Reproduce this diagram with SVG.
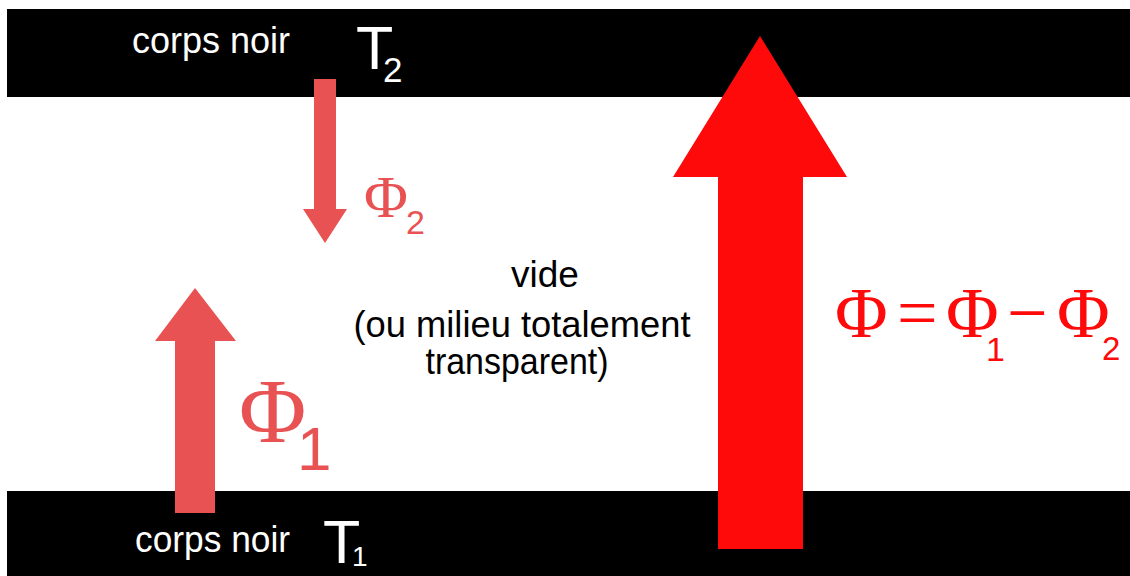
<svg xmlns="http://www.w3.org/2000/svg" width="1130" height="576" viewBox="0 0 1130 576">
<style>
.band{fill:#000}
.wt{fill:#fff;font-family:"Liberation Sans",Arial,sans-serif}
.bt{fill:#000;font-family:"Liberation Sans",Arial,sans-serif;font-size:37px;text-anchor:middle}
.pale{fill:#E85252}
.strong{fill:#FF0A0A}
.phi{font-family:"Liberation Serif","Times New Roman",serif}
.sub{font-family:"Liberation Sans",Arial,sans-serif}
</style>
<rect width="1130" height="576" fill="#fff"/>
<g id="top-body">
<rect class="band" x="7" y="9" width="1123" height="88"/>
<text class="wt" x="132" y="53" font-size="36" textLength="158" lengthAdjust="spacingAndGlyphs">corps noir</text>
<text class="wt" x="356" y="69" font-size="61">T<tspan x="383" y="82" font-size="35">2</tspan></text>
</g>
<g id="bottom-body">
<rect class="band" x="7" y="491" width="1123" height="85"/>
<text class="wt" x="135" y="552" font-size="36" textLength="155" lengthAdjust="spacingAndGlyphs">corps noir</text>
<text class="wt" x="323" y="563" font-size="61">T<tspan x="352" y="566" font-size="28">1</tspan></text>
</g>
<g id="medium">
<text class="bt" x="545" y="287" font-size="38">vide</text>
<text class="bt" x="522" y="337" textLength="337" lengthAdjust="spacingAndGlyphs">(ou milieu totalement</text>
<text class="bt" x="517" y="374" textLength="183" lengthAdjust="spacingAndGlyphs">transparent)</text>
</g>
<g id="arrows">
<polygon id="arrow-phi2" class="pale" points="314,79 336,79 336,209 347,209 325,243 303,209 314,209"/>
<polygon id="arrow-phi1" class="pale" points="195,288 236,341 215,341 215,513 175,513 175,341 155,341"/>
<polygon id="arrow-phi" class="strong" points="760,36 847,177 803,177 803,549 718,549 718,177 673,177"/>
</g>
<g id="label-phi2" class="pale">
<text class="phi" x="364" y="217" font-size="60">Φ<tspan class="sub" x="406" y="234" font-size="34">2</tspan></text>
</g>
<g id="label-phi1" class="pale">
<text class="phi" x="239" y="442" font-size="92">Φ<tspan class="sub" x="297" y="470" font-size="62">1</tspan></text>
</g>
<g id="label-phi" class="strong">
<text class="phi" x="835" y="337" font-size="72">Φ<tspan x="897">=</tspan><tspan x="946">Φ</tspan><tspan class="sub" x="986" y="361" font-size="34">1</tspan><tspan x="1007" y="337">−</tspan><tspan x="1057">Φ</tspan><tspan class="sub" x="1102" y="360" font-size="33">2</tspan></text>
</g>
</svg>
